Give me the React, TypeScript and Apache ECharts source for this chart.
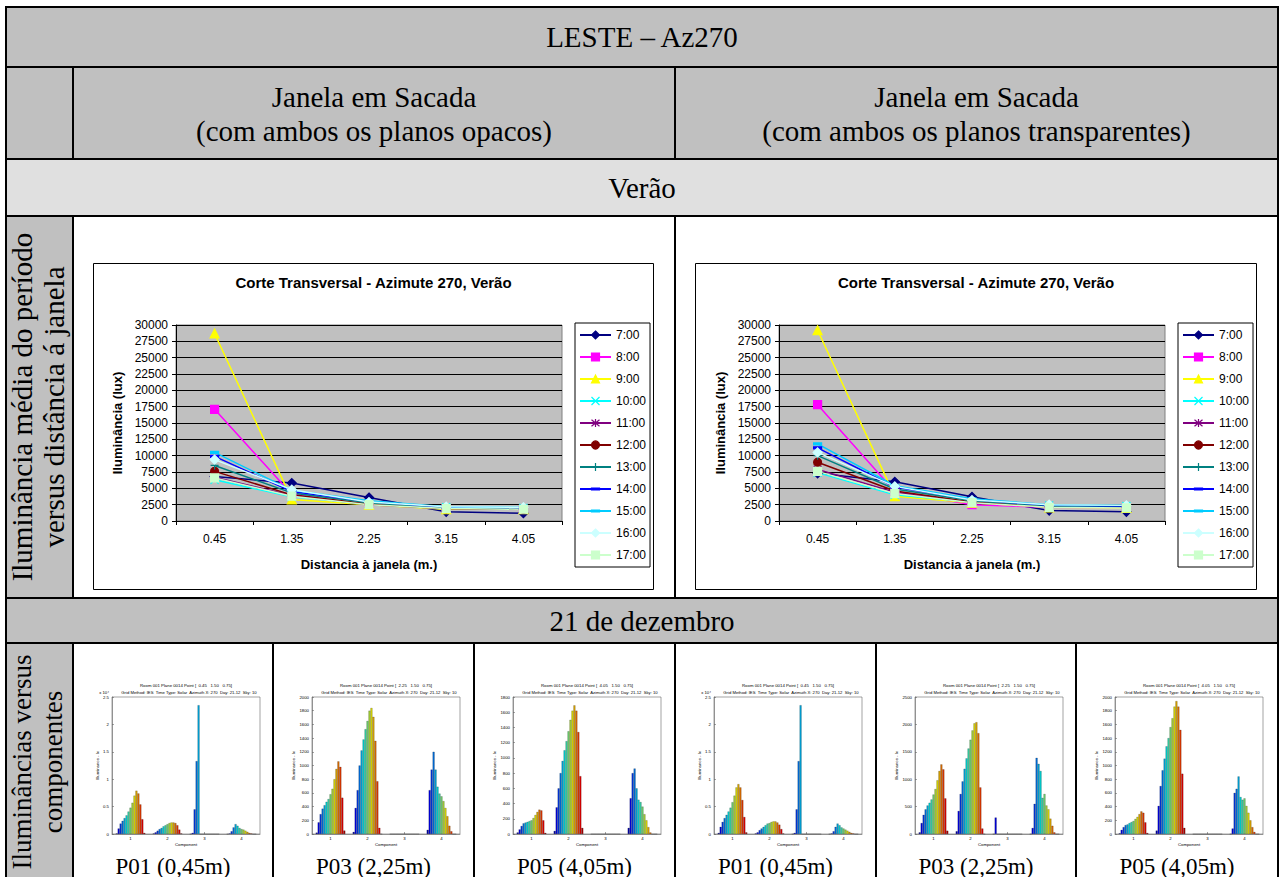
import { useEffect, useRef } from "react";
import * as echarts from "echarts";

const SERIF = '"Liberation Serif", "Times New Roman", Times, serif';
const SANS = '"Liberation Sans", Arial, Helvetica, sans-serif';

// ---------- Line charts data ----------
const distances = ["0.45", "1.35", "2.25", "3.15", "4.05"];
const hours = ["7:00", "8:00", "9:00", "10:00", "11:00", "12:00", "13:00", "14:00", "15:00", "16:00", "17:00"];
const hourColors = ["#000080", "#ff00ff", "#ffff00", "#00ffff", "#800080", "#800000", "#008080", "#0000ff", "#00ccff", "#ccffff", "#ccffcc"];

// Janela em Sacada (planos opacos)
const op07 = [6800, 5800, 3600, 1400, 1200];
const op08 = [17100, 4100, 2500, 1900, 1800];
const op09 = [28700, 3300, 2500, 1800, 1800];
const op10 = [6300, 3700, 2600, 2100, 2000];
const op11 = [6700, 3900, 2500, 1900, 1800];
const op12 = [7600, 4000, 2600, 1900, 1800];
const op13 = [8500, 4300, 2800, 2000, 1900];
const op14 = [9900, 4500, 3000, 2100, 2000];
const op15 = [10500, 4700, 3100, 2200, 2100];
const op16 = [9400, 4800, 2900, 2200, 2100];
const op17 = [6600, 3800, 2500, 1900, 1800];
const opacoLines = [op07, op08, op09, op10, op11, op12, op13, op14, op15, op16, op17];

// Janela em Sacada (planos transparentes)
const tr07 = [7300, 6000, 3700, 1600, 1400];
const tr08 = [17800, 4500, 2500, 2100, 2000];
const tr09 = [29200, 3800, 2800, 2100, 2000];
const tr10 = [7400, 4000, 2900, 2400, 2300];
const tr11 = [7900, 4400, 2800, 2200, 2100];
const tr12 = [9000, 4600, 2900, 2200, 2100];
const tr13 = [10000, 4900, 3100, 2300, 2200];
const tr14 = [11200, 5200, 3300, 2400, 2300];
const tr15 = [11800, 5400, 3400, 2500, 2400];
const tr16 = [10500, 5300, 3200, 2500, 2400];
const tr17 = [7600, 4200, 2800, 2100, 2000];
const transpLines = [tr07, tr08, tr09, tr10, tr11, tr12, tr13, tr14, tr15, tr16, tr17];

// ---------- Bar charts data (15 bars per component) ----------
const components = ["1", "2", "3", "4"];
// P01 opaco (x10^4)
const p01oC1 = [0.01, 0.1, 0.19, 0.24, 0.29, 0.34, 0.41, 0.48, 0.57, 0.7, 0.79, 0.74, 0.54, 0.27, 0.02];
const p01oC2 = [0.01, 0.03, 0.06, 0.09, 0.11, 0.14, 0.16, 0.18, 0.2, 0.21, 0.21, 0.2, 0.16, 0.08, 0.01];
const p01oC3 = [0, 0.02, 0.45, 1.33, 2.35, 0, 0, 0, 0, 0, 0, 0, 0, 0, 0];
const p01oC4 = [0, 0.01, 0.05, 0.12, 0.18, 0.15, 0.11, 0.09, 0.08, 0.06, 0.04, 0.02, 0.01, 0, 0];
// P03 opaco
const p03oC1 = [20, 170, 290, 370, 420, 470, 510, 580, 660, 800, 950, 1060, 980, 530, 50];
const p03oC2 = [30, 380, 640, 1000, 1220, 1380, 1530, 1650, 1800, 1840, 1710, 1360, 770, 90, 0];
const p03oC3 = [0, 0, 0, 0, 0, 0, 0, 0, 0, 0, 0, 0, 0, 0, 0];
const p03oC4 = [60, 640, 940, 1200, 940, 690, 590, 550, 480, 380, 260, 120, 40, 0, 0];
// P05 opaco
const p05oC1 = [20, 60, 105, 140, 150, 160, 170, 180, 210, 250, 290, 320, 310, 180, 15];
const p05oC2 = [40, 350, 600, 800, 960, 1100, 1220, 1350, 1500, 1620, 1690, 1620, 1340, 760, 80];
const p05oC3 = [0, 0, 0, 0, 0, 0, 0, 0, 0, 0, 0, 0, 0, 0, 0];
const p05oC4 = [80, 470, 800, 860, 600, 450, 420, 360, 260, 180, 90, 20, 0, 0, 0];
// P01 transparente (x10^4)
const p01tC1 = [0.02, 0.13, 0.22, 0.29, 0.35, 0.41, 0.48, 0.58, 0.7, 0.85, 0.91, 0.85, 0.62, 0.31, 0.03];
const p01tC2 = [0.01, 0.03, 0.07, 0.1, 0.13, 0.16, 0.19, 0.2, 0.22, 0.23, 0.23, 0.21, 0.17, 0.09, 0.01];
const p01tC3 = [0, 0.02, 0.45, 1.33, 2.35, 0, 0, 0, 0, 0, 0, 0, 0, 0, 0];
const p01tC4 = [0, 0.01, 0.05, 0.13, 0.19, 0.16, 0.12, 0.1, 0.08, 0.06, 0.04, 0.02, 0.01, 0, 0];
// P03 transparente
const p03tC1 = [30, 200, 350, 450, 520, 570, 630, 720, 820, 980, 1150, 1270, 1180, 650, 60];
const p03tC2 = [50, 420, 730, 960, 1190, 1380, 1560, 1720, 1890, 2020, 2040, 1840, 850, 100, 0];
const p03tC3 = [0, 300, 0, 0, 0, 0, 0, 0, 0, 0, 0, 0, 0, 0, 0];
const p03tC4 = [0, 110, 550, 1390, 1280, 1150, 660, 730, 520, 450, 280, 150, 30, 0, 0];
// P05 transparente
const p05tC1 = [10, 60, 100, 130, 140, 160, 175, 190, 220, 250, 290, 330, 310, 170, 15];
const p05tC2 = [50, 410, 700, 930, 1100, 1280, 1400, 1560, 1690, 1860, 1940, 1860, 1520, 880, 90];
const p05tC3 = [0, 0, 0, 0, 0, 0, 0, 0, 0, 0, 0, 0, 0, 0, 0];
const p05tC4 = [0, 80, 600, 660, 840, 540, 500, 520, 410, 310, 200, 100, 30, 0, 0];

const barLabels = ["P01 (0,45m)", "P03 (2,25m)", "P05 (4,05m)", "P01 (0,45m)", "P03 (2,25m)", "P05 (4,05m)"];
const barPoints = ["0.45", "2.25", "4.05", "0.45", "2.25", "4.05"];
const barMax = [2.5, 2000, 1800, 2.5, 2500, 2000];
const barInterval = [0.5, 200, 200, 0.5, 500, 200];
const barGroups = [
  [p01oC1, p01oC2, p01oC3, p01oC4],
  [p03oC1, p03oC2, p03oC3, p03oC4],
  [p05oC1, p05oC2, p05oC3, p05oC4],
  [p01tC1, p01tC2, p01tC3, p01tC4],
  [p03tC1, p03tC2, p03tC3, p03tC4],
  [p05tC1, p05tC2, p05tC3, p05tC4],
];

const jet = ["#0000a3", "#0000d9", "#0036d9", "#006cd9", "#00a3d9", "#00d0d0", "#36d0a3", "#6cd06c", "#a3d036", "#d9d900", "#d9a300", "#d96c00", "#d93600", "#d90000", "#a30000"];

const X_PATH = "path://M0,0L10,10M10,0L0,10";
const STAR_PATH = "path://M0,0L10,10M10,0L0,10M5,-1L5,11";
const PLUS_PATH = "path://M5,0L5,10M0,5L10,5";
const DASH_PATH = "path://M0,0M10,10M0,3.8L10,3.8L10,6.2L0,6.2Z";
const hourSymbols = ["diamond", "rect", "triangle", X_PATH, STAR_PATH, "circle", PLUS_PATH, DASH_PATH, DASH_PATH, "diamond", "rect"];
const hourSymbolSizes = [9, 8, 9, 8, 8, 8, 8, 8, 8, 9, 8];

function buildOption() {
  const graphics: any[] = [];
  const rect = (x: number, y: number, w: number, h: number, fill: string) =>
    graphics.push({ type: "rect", silent: true, z: 0, shape: { x, y, width: w, height: h }, style: { fill } });
  const line = (x1: number, y1: number, x2: number, y2: number, w = 2, color = "#000") =>
    graphics.push({ type: "line", silent: true, z: 0, shape: { x1, y1, x2, y2 }, style: { stroke: color, lineWidth: w } });
  const text = (t: string, x: number, y: number, size: number, opts: any = {}) =>
    graphics.push({
      type: "text",
      silent: true,
      z: 6,
      x,
      y,
      rotation: opts.rotation || 0,
      style: {
        text: t,
        fontSize: size,
        fontFamily: opts.family || SERIF,
        fontWeight: opts.weight || "normal",
        fill: "#000",
        align: opts.align || "center",
        textAlign: opts.align || "center",
        verticalAlign: "middle",
        textVerticalAlign: "middle",
      },
    });

  // table layout
  const L = 6, R = 1278, T = 7, B = 880;
  const rows = [7, 67, 159, 216, 598, 643];
  const col1 = 73, mid = 675;
  const cellEdges = [73, 273, 474, 675, 876, 1076, 1278];

  rect(L, rows[0], R - L, rows[1] - rows[0], "#c0c0c0");
  rect(L, rows[1], R - L, rows[2] - rows[1], "#c0c0c0");
  rect(L, rows[2], R - L, rows[3] - rows[2], "#e0e0e0");
  rect(L, rows[3], col1 - L, rows[4] - rows[3], "#c0c0c0");
  rect(L, rows[4], R - L, rows[5] - rows[4], "#c0c0c0");
  rect(L, rows[5], col1 - L, B - rows[5], "#c0c0c0");

  // chart boxes
  graphics.push({ type: "rect", silent: true, z: 0, shape: { x: 93.5, y: 263.5, width: 560, height: 326 }, style: { fill: "#fff", stroke: "#000", lineWidth: 1 } });
  graphics.push({ type: "rect", silent: true, z: 0, shape: { x: 695.5, y: 263.5, width: 561, height: 326 }, style: { fill: "#fff", stroke: "#000", lineWidth: 1 } });

  rows.forEach((y) => line(L - 1, y, R + 1, y));
  line(L, T, L, B);
  line(R, T, R, B);
  [[rows[1], rows[2]], [rows[3], rows[4]], [rows[5], B]].forEach(([a, b]) => {
    line(col1, a, col1, b);
    line(mid, a, mid, b);
  });
  [273, 474, 876, 1076].forEach((x) => line(x, rows[5], x, B));

  // table texts
  text("LESTE – Az270", 642, 37, 29);
  text("Janela em Sacada", 374, 97, 29);
  text("(com ambos os planos opacos)", 374, 131, 29);
  text("Janela em Sacada", 976.5, 97, 29);
  text("(com ambos os planos transparentes)", 976.5, 131, 29);
  text("Verão", 642, 188, 29);
  text("21 de dezembro", 642, 621, 29);
  text("Iluminância média do período", 22, 407, 29, { rotation: Math.PI / 2 });
  text("versus distância á janela", 54, 407, 29, { rotation: Math.PI / 2 });
  text("Iluminâncias versus", 22, 762, 27, { rotation: Math.PI / 2 });
  text("componentes", 53, 762, 27, { rotation: Math.PI / 2 });

  // line chart titles
  const chartBoxes = [
    { cx: 373.5, plotL: 176, yTitleX: 117 },
    { cx: 976, plotL: 779, yTitleX: 720 },
  ];
  chartBoxes.forEach((c) => {
    text("Corte Transversal - Azimute 270, Verão", c.cx, 282, 15, { family: SANS, weight: "bold" });
    text("Distancia à janela (m.)", c.plotL + 193, 564, 13, { family: SANS, weight: "bold" });
    text("Iluminância (lux)", c.yTitleX, 423, 13, { family: SANS, weight: "bold", rotation: Math.PI / 2 });
  });

  const grids: any[] = [];
  const xAxes: any[] = [];
  const yAxes: any[] = [];
  const series: any[] = [];
  const legends: any[] = [];

  // ----- line charts -----
  [opacoLines, transpLines].forEach((dataSet, k) => {
    const left = chartBoxes[k].plotL;
    grids.push({ left, top: 325, width: 386, height: 196, show: true, backgroundColor: "#c0c0c0", borderColor: "#808080", borderWidth: 1, z: 1, outerBoundsMode: "none", containLabel: false });
    xAxes.push({
      type: "category",
      gridIndex: k,
      data: distances,
      boundaryGap: true,
      z: 3,
      axisLine: { lineStyle: { color: "#000", width: 1 } },
      axisTick: { show: true, interval: 0, length: 4, lineStyle: { color: "#000" } },
      axisLabel: { interval: 0, fontSize: 12, color: "#000", fontFamily: SANS, margin: 12 },
      splitLine: { show: false },
    });
    yAxes.push({
      type: "value",
      gridIndex: k,
      min: 0,
      max: 30000,
      interval: 2500,
      z: 3,
      axisLine: { show: true, lineStyle: { color: "#000", width: 1 } },
      axisTick: { show: true, length: 4, lineStyle: { color: "#000" } },
      axisLabel: { fontSize: 12, color: "#000", fontFamily: SANS, margin: 8, formatter: (v: number) => String(v) },
      splitLine: { show: true, lineStyle: { color: "#000", width: 1 } },
    });
    dataSet.forEach((d, i) => {
      const color = hourColors[i];
      series.push({
        type: "line",
        name: hours[i],
        xAxisIndex: k,
        yAxisIndex: k,
        data: d,
        symbol: hourSymbols[i],
        symbolSize: hourSymbolSizes[i],
        showAllSymbol: true,
        z: 4,
        lineStyle: { color, width: 1.5 },
        itemStyle: { color, borderColor: color, borderWidth: 1.2 },
      });
    });
    legends.push({
      left: k === 0 ? 575 : 1178,
      top: 323,
      orient: "vertical",
      data: hours,
      padding: [6, 4, 6, 4],
      itemWidth: 31,
      itemHeight: 10,
      itemGap: 10,
      borderColor: "#000",
      borderWidth: 1,
      backgroundColor: "#fff",
      selectedMode: false,
      z: 5,
      itemStyle: { borderWidth: 1.2 },
      textStyle: { fontSize: 12, color: "#000", fontFamily: SANS },
    });
  });

  // ----- bar charts -----
  barGroups.forEach((groups, b) => {
    const gi = 2 + b;
    const cellL = cellEdges[b];
    const cellR = cellEdges[b + 1];
    const plotL = cellL + 39;
    const plotW = 148;
    grids.push({ left: plotL, top: 697, width: plotW, height: 137, show: true, backgroundColor: "#fff", borderColor: "#666", borderWidth: 0.6, z: 1, outerBoundsMode: "none", containLabel: false });
    xAxes.push({
      type: "category",
      gridIndex: gi,
      data: components,
      boundaryGap: true,
      z: 3,
      axisLine: { lineStyle: { color: "#666", width: 0.6 } },
      axisTick: { show: true, inside: true, alignWithLabel: true, length: 2, lineStyle: { color: "#666", width: 0.6 } },
      axisLabel: { fontSize: 4.3, color: "#000", fontFamily: SANS, margin: 2 },
      splitLine: { show: false },
      name: "Component",
      nameLocation: "middle",
      nameGap: 8,
      nameTextStyle: { fontSize: 4.3, color: "#000", fontFamily: SANS },
    });
    yAxes.push({
      type: "value",
      gridIndex: gi,
      min: 0,
      max: barMax[b],
      interval: barInterval[b],
      z: 3,
      axisLine: { show: true, lineStyle: { color: "#666", width: 0.6 } },
      axisTick: { show: true, inside: true, length: 2, lineStyle: { color: "#666", width: 0.6 } },
      axisLabel: { fontSize: 4.3, color: "#000", fontFamily: SANS, margin: 3, formatter: (v: number) => String(v) },
      splitLine: { show: false },
      name: "Illuminance - lx",
      nameLocation: "middle",
      nameRotate: 90,
      nameGap: 11,
      nameTextStyle: { fontSize: 4.3, color: "#000", fontFamily: SANS },
    });
    for (let j = 0; j < 15; j++) {
      series.push({
        type: "bar",
        name: `bar-${b}-${j}`,
        xAxisIndex: gi,
        yAxisIndex: gi,
        data: groups.map((g) => g[j]),
        barGap: "0%",
        barCategoryGap: "20%",
        z: 4,
        itemStyle: { color: jet[j], borderColor: "rgba(0,0,0,0.6)", borderWidth: 0.3 },
      });
    }
    const cx = plotL + plotW / 2;
    text(`Room 001 Plane 0014 Point [  ${barPoints[b]}   1.50   0.75]`, cx, 685.5, 4.3, { family: SANS });
    text("Grid Method: IES  Time Type: Solar  Azimuth X: 270  Day: 21-12  Sky: 10", cx + 3, 692, 4.2, { family: SANS });
    if (barMax[b] < 10) text("x 10⁴", plotL - 3, 692.5, 4.2, { family: SANS, align: "right" });
    text(barLabels[b], (cellL + cellR) / 2, 866, 23);
  });

  return {
    animation: false,
    backgroundColor: "#ffffff",
    graphic: { elements: graphics },
    grid: grids,
    xAxis: xAxes,
    yAxis: yAxes,
    legend: legends,
    series,
  };
}

export default function App() {
  const ref = useRef<HTMLDivElement>(null);
  useEffect(() => {
    const chart = echarts.init(ref.current!, undefined, { renderer: "svg", width: 1284, height: 877 });
    chart.setOption(buildOption() as any);
    return () => chart.dispose();
  }, []);
  return <div ref={ref} style={{ position: "absolute", left: 0, top: 0, width: 1284, height: 877, background: "#fff" }} />;
}
